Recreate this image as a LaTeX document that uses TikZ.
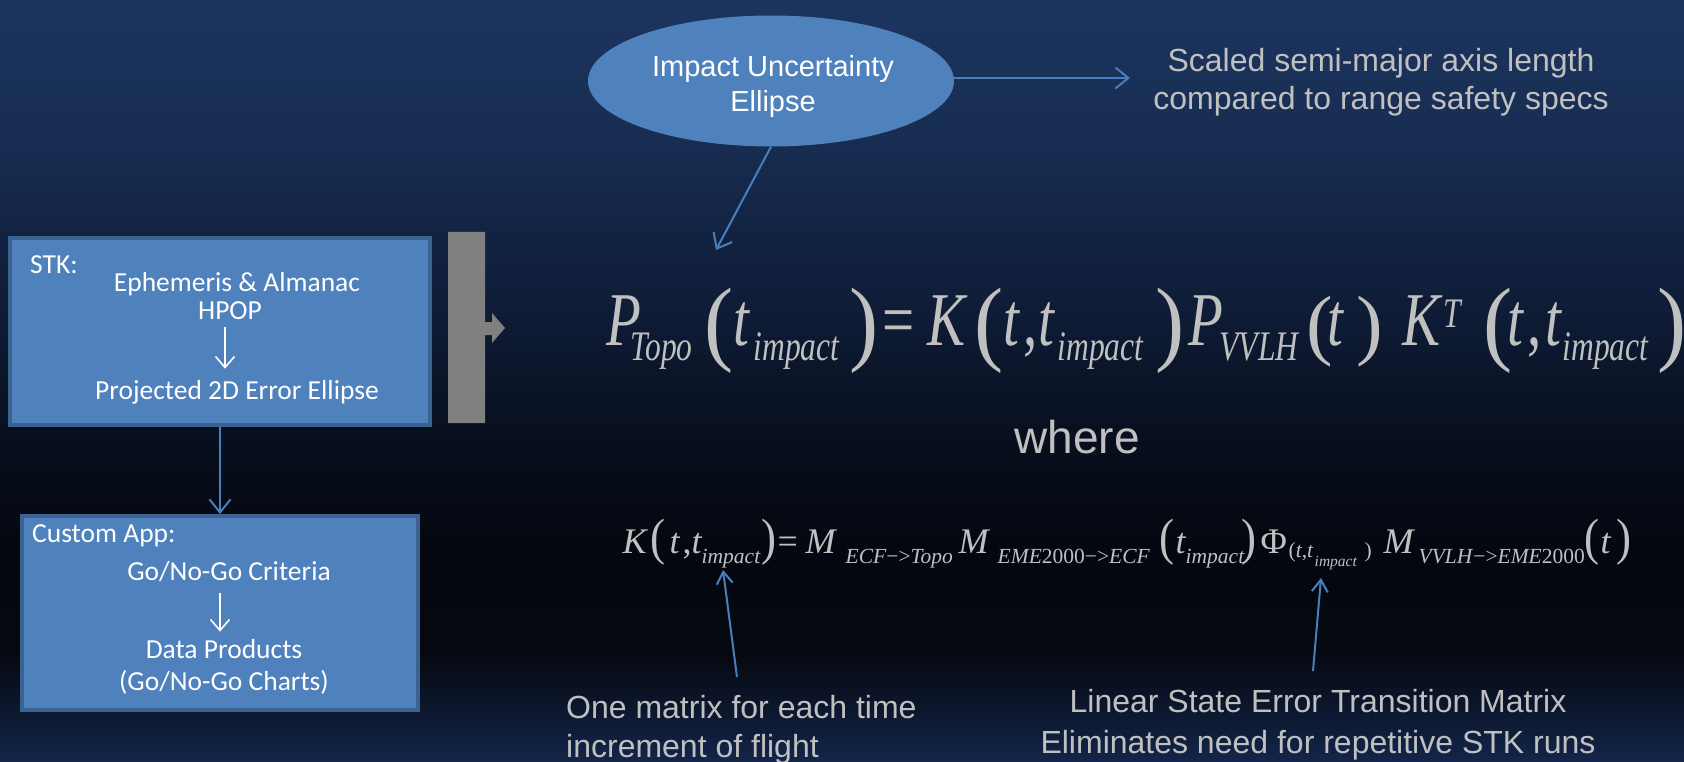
\documentclass[tikz,border=0pt]{standalone}
\usepackage{fontspec}
\usepackage{graphicx}
\setmainfont{Liberation Serif}
\newfontfamily\arialf{Liberation Sans}
\newfontfamily\calf{Carlito}
\usetikzlibrary{arrows.meta,shapes.geometric}
\definecolor{bgA}{HTML}{13254A}
\definecolor{bgB}{HTML}{05080F}
\definecolor{bgC}{HTML}{04070F}
\definecolor{bgD}{HTML}{070E1C}
\definecolor{bgE}{HTML}{0F1D38}
\definecolor{bgF}{HTML}{172C50}
\definecolor{bgG}{HTML}{1C3560}
\definecolor{ofblue}{HTML}{4F81BD}
\definecolor{ofborder}{HTML}{3A6391}
\definecolor{arrblue}{HTML}{4A7EBB}
\definecolor{txtgray}{HTML}{C0C0C0}
\definecolor{blockgray}{HTML}{808080}
\pgfdeclareverticalshading{bgshade}{100bp}{color(0bp)=(bgA); color(25bp)=(bgA); color(32.3bp)=(bgB); color(38.9bp)=(bgC); color(45.5bp)=(bgD); color(55.3bp)=(bgE); color(65.2bp)=(bgF); color(75bp)=(bgG); color(100bp)=(bgG)}
% absolute placement inside a formula line
\newcommand\fat[2]{\rlap{\hskip#1pt\relax#2}}
% formula 1
\newcommand\fmA{\fontsize{76}{76}\selectfont}
\newcommand\fsA{\fontsize{42}{42}\selectfont}
\newcommand\miA[1]{\scalebox{0.75}[1]{\fmA\itshape #1}}
\newcommand\muA[1]{\scalebox{0.75}[1]{\fmA #1}}
\newcommand\siA[1]{\raisebox{-15pt}{\scalebox{0.75}[1]{\fsA\itshape #1}}}
\newcommand\suA[1]{\raisebox{18pt}{\scalebox{0.75}[1]{\fsA\itshape #1}}}
\newcommand\pbA[1]{\raisebox{-8pt}{\scalebox{1.15}[1.24]{\fmA #1}}}
\newcommand\pmA[1]{\raisebox{-5pt}{\scalebox{1.05}[1.03]{\fmA #1}}}
% formula 2
\newcommand\fmB{\fontsize{36}{36}\selectfont}
\newcommand\fsB{\fontsize{21.5}{21.5}\selectfont}
\newcommand\miB[1]{{\fmB\itshape #1}}
\newcommand\muB[1]{{\fmB #1}}
\newcommand\siB[1]{\raisebox{-10pt}{\fsB #1}}
\newcommand\pbB[1]{\raisebox{-1pt}{\scalebox{1.25}[1.42]{\fmB #1}}}
\begin{document}
\begin{tikzpicture}[x=1pt,y=-1pt,
  box/.style={draw=ofborder, line width=4pt, fill=ofblue, inner sep=0pt},
  conn/.style={draw=arrblue, line width=2pt, -{Straight Barb[length=13pt,width=21pt]}},
  upconn/.style={draw=arrblue, line width=2pt, -{Straight Barb[length=12pt,width=16pt]}},
  inarrow/.style={draw=white, line width=1.6pt, -{Straight Barb[length=11pt,width=19pt]}},
  boxtxt/.style={text=white, font=\calf\fontsize{27.5}{33}\selectfont, inner sep=0pt, anchor=base},
  gtxt/.style={text=txtgray, font=\arialf\fontsize{32}{38}\selectfont, inner sep=0pt},
  formula/.style={text=txtgray, inner sep=0pt, anchor=base west}]
\fill[shading=bgshade] (0,0) rectangle (1684,762);
\useasboundingbox (0,0) rectangle (1684,762);

% left boxes
\node[box, minimum width=420pt, minimum height=187pt] (stk) at (220,331.5) {};
\node[box, minimum width=396pt, minimum height=194pt] (cust) at (220,613) {};
\draw[conn] (stk.south) -- (cust.north);

\node[boxtxt, anchor=base west] (stklab) at (30,273) {STK:};
\node[boxtxt] (eph) at (237,291) {Ephemeris \& Almanac};
\node[boxtxt] (hpop) at (230,319) {HPOP};
\node[boxtxt] (proj) at (237,399) {Projected 2D Error Ellipse};
\coordinate (axA) at (225,0);
\draw[inarrow, shorten <=8pt, shorten >=11pt] (hpop.south -| axA) -- (proj.north -| axA);

\node[boxtxt, anchor=base west] (custlab) at (32,542) {Custom App:};
\node[boxtxt] (gonogo) at (229,580) {Go/No-Go Criteria};
\node[boxtxt] (dprod) at (224,658) {Data Products};
\node[boxtxt] (charts) at (224,690) {(Go/No-Go Charts)};
\coordinate (axB) at (220,0);
\draw[inarrow, shorten <=12pt, shorten >=7pt] (gonogo.south -| axB) -- (dprod.north -| axB);

% grey block arrow
\fill[blockgray] (448,232) -- (485,232) -- (485,322) -- (492,322) -- (492,313) -- (505,328)
  -- (492,343) -- (492,335) -- (485,335) -- (485,423) -- (448,423) -- cycle;

% ellipse
\node[ellipse, fill=ofblue, minimum width=366pt, minimum height=131pt, inner sep=0pt] (ell) at (771,81) {};
\node[anchor=base, inner sep=0pt, text=white, font=\arialf\fontsize{29}{35}\selectfont] (elltxt) at (773,77)
  {\begin{tabular}[t]{@{}c@{}}Impact Uncertainty\\Ellipse\end{tabular}};
\coordinate (rtip) at (1130,78);
\draw[conn] (ell.east |- rtip) -- (rtip);
\coordinate (ftip) at (716,250);
\draw[conn] (ell.south) -- (ftip);

\node[gtxt, anchor=base] (scaled) at (1381,72)
  {\begin{tabular}[t]{@{}c@{}}Scaled semi-major axis length\\compared to range safety specs\end{tabular}};

% main formula
\node[formula] (f1) at (606,345) {%
\fat{0}{\miA{P}}%
\fat{24}{\siA{Topo}}%
\fat{98}{\pbA{(}}%
\fat{127}{\miA{t}}%
\fat{147}{\siA{impact}}%
\fat{243}{\pbA{)}}%
\fat{276}{\muA{=}}%
\fat{321}{\miA{K}}%
\fat{368}{\pbA{(}}%
\fat{397}{\miA{t}}%
\fat{417}{\muA{,}}%
\fat{432}{\miA{t}}%
\fat{451}{\siA{impact}}%
\fat{549}{\pbA{)}}%
\fat{582}{\miA{P}}%
\fat{613}{\siA{VVLH}}%
\fat{700}{\pmA{(}}%
\fat{721}{\miA{t}}%
\fat{750}{\pmA{)}}%
\fat{796}{\miA{K}}%
\fat{837}{\suA{T}}%
\fat{877}{\pbA{(}}%
\fat{901}{\miA{t}}%
\fat{921}{\muA{,}}%
\fat{939}{\miA{t}}%
\fat{956}{\siA{impact}}%
\fat{1051}{\pbA{)}}%
\hskip1071pt};

\node[text=txtgray, inner sep=0pt, anchor=base, font=\arialf\fontsize{46}{52}\selectfont] (where) at (1077,453) {where};

% K formula
\node[formula] (f2) at (622,553) {%
\fat{0}{\miB{K}}%
\fat{28}{\pbB{(}}%
\fat{47}{\miB{t}}%
\fat{60}{\muB{,}}%
\fat{69}{\miB{t}}%
\fat{79}{\siB{\itshape impact}}%
\fat{139}{\pbB{)}}%
\fat{155}{\muB{=}}%
\fat{183}{\miB{M}}%
\fat{223}{\siB{\textit{ECF}−>\textit{Topo}}}%
\fat{336}{\miB{M}}%
\fat{375}{\siB{\textit{EME}2000−>\textit{ECF}}}%
\fat{537}{\pbB{(}}%
\fat{553}{\miB{t}}%
\fat{563}{\siB{\itshape impact}}%
\fat{619}{\pbB{)}}%
\fat{638}{\muB{Φ}}%
\fat{666}{\raisebox{-4pt}{\fsB(\textit{t},\textit{t}}}%
\fat{692}{\raisebox{-13pt}{\fontsize{15.5}{15.5}\selectfont\itshape impact}}%
\fat{742}{\raisebox{-4pt}{\fsB)}}%
\fat{761}{\miB{M}}%
\fat{796}{\siB{\textit{VVLH}−>\textit{EME}2000}}%
\fat{962}{\pbB{(}}%
\fat{978}{\miB{t}}%
\fat{994}{\pbB{)}}%
\hskip1008pt};

% bottom annotations
\node[gtxt, anchor=base west, font=\arialf\fontsize{32}{39}\selectfont] (onem) at (566,718)
  {\begin{tabular}[t]{@{}l@{}}One matrix for each time\\increment of flight\end{tabular}};
\node[gtxt, anchor=base, font=\arialf\fontsize{32}{41}\selectfont] (linear) at (1318,712)
  {\begin{tabular}[t]{@{}c@{}}Linear State Error Transition Matrix\\Eliminates need for repetitive STK runs\end{tabular}};
\coordinate (b1) at (737,677);
\coordinate (t1) at (723,570);
\draw[upconn] (b1) -- (t1);
\coordinate (b2) at (1313,671);
\coordinate (t2) at (1321,578);
\draw[upconn] (b2) -- (t2);
\end{tikzpicture}
\end{document}
